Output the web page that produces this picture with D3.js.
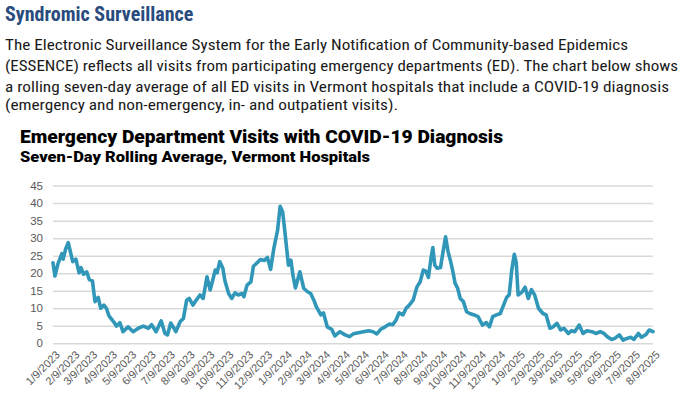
<!DOCTYPE html>
<html>
<head>
<meta charset="utf-8">
<script src="https://cdn.jsdelivr.net/npm/d3@7"></script>
<style>
  body { margin: 0; background: #fff; }
  svg { display: block; }
</style>
</head>
<body>
<svg width="684" height="401"></svg>
<script>
// Seven-day rolling average of ED visits with a COVID-19 diagnosis
const dates = [
  "2023-01-09","2023-01-12","2023-01-17","2023-01-23","2023-01-25","2023-01-29","2023-02-02","2023-02-09",
  "2023-02-14","2023-02-19","2023-02-22","2023-02-26","2023-03-03","2023-03-07","2023-03-12","2023-03-16",
  "2023-03-21","2023-03-25","2023-03-30","2023-04-03","2023-04-07","2023-04-14","2023-04-19","2023-04-24",
  "2023-04-29","2023-05-07","2023-05-15","2023-05-23","2023-05-31","2023-06-08","2023-06-13","2023-06-20",
  "2023-06-28","2023-07-04","2023-07-08","2023-07-13","2023-07-18","2023-07-21","2023-07-28","2023-08-02",
  "2023-08-07","2023-08-11","2023-08-17","2023-08-22","2023-08-28","2023-09-02","2023-09-08","2023-09-13",
  "2023-09-17","2023-09-21","2023-09-24","2023-09-28","2023-10-03","2023-10-06","2023-10-12","2023-10-17",
  "2023-10-22","2023-10-27","2023-11-02","2023-11-05","2023-11-10","2023-11-16","2023-11-20","2023-11-26",
  "2023-12-01","2023-12-07","2023-12-12","2023-12-17","2023-12-22","2023-12-28","2024-01-01","2024-01-05",
  "2024-01-09","2024-01-14","2024-01-18","2024-01-21","2024-01-25","2024-02-01","2024-02-07","2024-02-13",
  "2024-02-18","2024-02-23","2024-02-27","2024-03-05","2024-03-09","2024-03-15","2024-03-22","2024-03-27",
  "2024-04-04","2024-04-12","2024-04-19","2024-04-25","2024-05-03","2024-05-11","2024-05-19","2024-05-26",
  "2024-06-01","2024-06-07","2024-06-14","2024-06-21","2024-06-26","2024-07-01","2024-07-06","2024-07-12",
  "2024-07-17","2024-07-22","2024-07-28","2024-08-03","2024-08-08","2024-08-13","2024-08-17","2024-08-21",
  "2024-08-25","2024-08-28","2024-08-31","2024-09-04","2024-09-09","2024-09-13","2024-09-17","2024-09-21",
  "2024-09-25","2024-09-28","2024-10-02","2024-10-06","2024-10-10","2024-10-15","2024-10-20","2024-10-25",
  "2024-11-01","2024-11-07","2024-11-14","2024-11-20","2024-11-25","2024-11-30","2024-12-06","2024-12-12",
  "2024-12-17","2024-12-22","2024-12-26","2024-12-30","2025-01-03","2025-01-06","2025-01-09","2025-01-15",
  "2025-01-20","2025-01-25","2025-01-30","2025-02-04","2025-02-10","2025-02-17","2025-02-22","2025-02-28",
  "2025-03-05","2025-03-11","2025-03-17","2025-03-22","2025-03-29","2025-04-03","2025-04-08","2025-04-15",
  "2025-04-21","2025-04-27","2025-05-05","2025-05-11","2025-05-18","2025-05-24","2025-05-29","2025-06-05",
  "2025-06-10","2025-06-17","2025-06-23","2025-06-29","2025-07-05","2025-07-10","2025-07-17","2025-07-22",
  "2025-07-29","2025-08-03","2025-08-09"
];
const visits = [
  23, 19.2, 22.8, 25.6, 24, 27, 28.7, 23.3,
  24, 20.1, 21.6, 19.7, 20.4, 18.2, 17.8, 11.9,
  13.1, 10, 10.9, 10, 7.8, 6.2, 4.9, 5.9,
  3.3, 4.7, 3.3, 4.3, 4.9, 4.3, 5.3, 3.3,
  6.4, 2.8, 2.4, 5.8, 4.3, 3.3, 6.2, 7.1,
  12.3, 12.8, 10.9, 12.3, 13.8, 12.8, 19, 15.2,
  18, 20.9, 20.1, 23.3, 21.4, 18, 14.2, 12.8,
  14.4, 13.8, 14.2, 13.3, 16.6, 17.5, 22, 23,
  23.9, 23.6, 24.5, 21.1, 27, 32.3, 39.1, 37.5,
  30.9, 22.3, 23.7, 19.5, 15.8, 20.4, 15.7, 14.7,
  14.2, 12.3, 10.4, 8.1, 8.7, 4.7, 4, 2.1,
  3.3, 2.4, 1.9, 2.7, 3, 3.3, 3.6, 3.3,
  2.7, 4, 4.7, 5.5, 5.3, 6.6, 8.7, 8.1,
  10, 10.9, 12.3, 16.1, 17.5, 20.9, 20.6, 18.8,
  24.2, 27.3, 22.3, 21.4, 21.6, 26.1, 30.4, 26.1,
  23.3, 20.9, 17.1, 15.7, 12.8, 11.9, 9, 8.5,
  8.1, 7.6, 5.2, 5.9, 4.7, 7.6, 8.1, 8.5,
  10.8, 13.1, 13.8, 20.9, 25.4, 23.1, 13.8, 14.6,
  16, 12.8, 15.3, 13.8, 10, 8.5, 8.1, 4.3,
  4.7, 5.7, 3.8, 4.3, 2.8, 3.6, 3.3, 5.2,
  2.8, 3.6, 3.3, 2.8, 3.3, 2.8, 1.9, 1.1,
  1.4, 2.4, 0.9, 1.4, 1.7, 1.1, 2.8, 1.7,
  2.5, 3.8, 3.3
];
const yTicks = [0, 5, 10, 15, 20, 25, 30, 35, 40, 45];
const xTickLabels = [
  "1/9/2023","2/9/2023","3/9/2023","4/9/2023","5/9/2023","6/9/2023","7/9/2023","8/9/2023",
  "9/9/2023","10/9/2023","11/9/2023","12/9/2023","1/9/2024","2/9/2024","3/9/2024","4/9/2024",
  "5/9/2024","6/9/2024","7/9/2024","8/9/2024","9/9/2024","10/9/2024","11/9/2024","12/9/2024",
  "1/9/2025","2/9/2025","3/9/2025","4/9/2025","5/9/2025","6/9/2025","7/9/2025","8/9/2025"
];
const bodyLines = [
  "The Electronic Surveillance System for the Early Notification of Community-based Epidemics",
  "(ESSENCE) reflects all visits from participating emergency departments (ED). The chart below shows",
  "a rolling seven-day average of all ED visits in Vermont hospitals that include a COVID-19 diagnosis",
  "(emergency and non-emergency, in- and outpatient visits)."
];

const parseDay = d3.timeParse("%Y-%m-%d");
const parseTick = d3.timeParse("%m/%d/%Y");
const data = dates.map((d, i) => ({ date: parseDay(d), value: visits[i] }));
const tickDates = xTickLabels.map(parseTick);

const svg = d3.select("svg");

// Section header and intro text
svg.append("text")
  .attr("x", 5).attr("y", 21)
  .attr("font-family", "'Liberation Sans Narrow', 'Roboto Condensed', sans-serif")
  .attr("font-weight", "bold")
  .attr("font-size", 20)
  .attr("fill", "#2a4b7e")
  .text("Syndromic Surveillance");

const bodyWidths = [623, 673, 664, 393];
const bodyY = [50, 71, 92, 110];
svg.append("g")
  .selectAll("text")
  .data(bodyLines)
  .join("text")
  .attr("x", 5)
  .attr("y", (d, i) => bodyY[i])
  .attr("font-family", "'Liberation Sans Narrow', 'Roboto Condensed', sans-serif")
  .attr("font-size", 15.5)
  .attr("fill", "#1a1a1a")
  .attr("textLength", (d, i) => bodyWidths[i])
  .attr("lengthAdjust", "spacingAndGlyphs")
  .text(d => d);

// Chart titles
svg.append("text")
  .attr("x", 20).attr("y", 143)
  .attr("font-family", "Roboto, sans-serif")
  .attr("font-weight", 900)
  .attr("font-size", 17.5)
  .attr("fill", "#000")
  .attr("textLength", 483)
  .attr("lengthAdjust", "spacingAndGlyphs")
  .text("Emergency Department Visits with COVID-19 Diagnosis");

svg.append("text")
  .attr("x", 20).attr("y", 162)
  .attr("font-family", "Roboto, sans-serif")
  .attr("font-weight", 900)
  .attr("font-size", 14.5)
  .attr("fill", "#000")
  .attr("textLength", 350)
  .attr("lengthAdjust", "spacingAndGlyphs")
  .text("Seven-Day Rolling Average, Vermont Hospitals");

// Scales
const xScale = d3.scaleTime()
  .domain([parseDay("2023-01-09"), parseDay("2025-08-09")])
  .range([53, 653]);

const yScale = d3.scaleLinear()
  .domain([0, 45])
  .range([343.3, 185.6]);

// Gridlines + y labels
const yAxis = svg.append("g")
  .attr("transform", "translate(53,0)")
  .call(d3.axisLeft(yScale).tickValues(yTicks).tickSize(-600).tickPadding(10));
yAxis.select(".domain").remove();
yAxis.selectAll(".tick line").attr("stroke", "#d9d9d9").attr("stroke-width", 1.5);
yAxis.selectAll(".tick text")
  .attr("fill", "#595959")
  .attr("font-family", "'Liberation Sans', Arial, sans-serif")
  .attr("font-size", 11.5);

// x labels
const xAxis = svg.append("g")
  .attr("transform", "translate(0,343.3)")
  .call(d3.axisBottom(xScale).tickValues(tickDates).tickSize(0).tickFormat(d3.timeFormat("%-m/%-d/%Y")));
xAxis.select(".domain").remove();
xAxis.selectAll(".tick text")
  .attr("fill", "#595959")
  .attr("font-family", "'Liberation Sans', Arial, sans-serif")
  .attr("font-size", 11)
  .attr("text-anchor", "end")
  .attr("dy", 0)
  .attr("transform", "translate(5,10) rotate(-45)");

// Line
const line = d3.line()
  .x(d => xScale(d.date))
  .y(d => yScale(d.value));

svg.append("path")
  .datum(data)
  .attr("fill", "none")
  .attr("stroke", "#3197b9")
  .attr("stroke-width", 3.6)
  .attr("stroke-linejoin", "round")
  .attr("stroke-linecap", "round")
  .attr("d", line);
</script>
</body>
</html>
